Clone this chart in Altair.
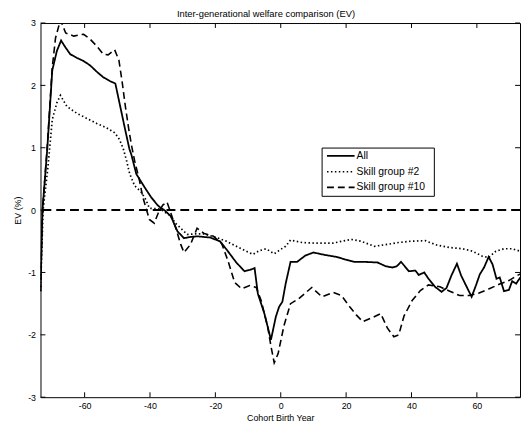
import altair as alt
import pandas as pd

# ---------------- data ----------------
series_names = ["All", "Skill group #2", "Skill group #10"]

all_year = [-73.5, -72.9, -71.4, -69.9, -68.5, -67.2, -66.0, -64.4, -62.3, -60.3, -58.3, -56.3,
            -54.3, -52.3, -50.6, -49.3, -47.8, -46.3, -45.7, -44.2, -41.7, -39.7, -37.7, -36.6,
            -35.6, -33.6, -31.6, -29.6, -27.6, -25.6, -23.6, -21.6, -18.6, -16.6, -13.6, -11.1,
            -9.5, -8.0, -7.0, -5.0, -3.0, -1.5, -0.5, 0.5, 1.5, 3.0, 5.0, 7.5, 10.0, 13.6, 17.1,
            19.6, 22.6, 25.6, 29.6, 32.1, 34.1, 35.5, 36.8, 39.2, 41.2, 42.2, 43.9, 45.2, 47.2,
            49.2, 50.7, 52.2, 53.9, 55.2, 56.5, 58.4, 59.7, 60.9, 62.2, 63.6, 64.8, 66.0, 67.0,
            68.3, 69.8, 70.8, 72.0, 73.3]
all_ev = [-1.30, 0.00, 1.00, 2.24, 2.55, 2.72, 2.62, 2.50, 2.44, 2.39, 2.32, 2.22,
          2.13, 2.07, 2.03, 1.71, 1.34, 0.98, 0.89, 0.58, 0.37, 0.21, 0.08, 0.03,
          0.00, -0.10, -0.34, -0.45, -0.43, -0.42, -0.43, -0.44, -0.50, -0.63, -0.84, -0.98,
          -0.96, -0.93, -1.34, -1.66, -2.08, -1.71, -1.55, -1.47, -1.18, -0.83, -0.83, -0.73, -0.68, -0.72, -0.75,
          -0.79, -0.83, -0.83, -0.84, -0.90, -0.92, -0.90, -0.83, -0.98, -0.97, -1.04, -1.00, -1.10, -1.23,
          -1.31, -1.25, -1.05, -0.86, -1.05, -1.19, -1.39, -1.21, -1.03, -0.92, -0.75, -0.87, -1.10, -1.08,
          -1.30, -1.28, -1.14, -1.18, -1.08]

sg2_year = [-73.5, -72.7, -71.2, -69.9, -68.5, -67.4, -66.3, -65.4, -62.3, -59.3, -56.3, -53.3,
            -50.8, -49.3, -48.1, -47.2, -46.2, -44.7, -42.7, -41.2, -40.2, -37.0, -34.0, -32.0,
            -30.6, -28.6, -26.0, -23.6, -19.6, -16.6, -13.6, -10.5, -8.5, -6.5, -4.5, -2.0, 0.0,
            1.5, 3.0, 6.5, 10.5, 16.0, 18.6, 21.6, 24.6, 28.6, 32.6, 36.0, 39.7, 44.2, 47.7, 51.7,
            55.7, 58.7, 61.7, 63.6, 65.8, 68.3, 70.8, 73.3]
sg2_ev = [-1.30, 0.00, 0.70, 1.45, 1.72, 1.84, 1.74, 1.66, 1.55, 1.47, 1.39, 1.32,
          1.24, 1.13, 0.97, 0.80, 0.58, 0.39, 0.29, 0.16, 0.03, 0.02, -0.08, -0.22,
          -0.29, -0.39, -0.38, -0.38, -0.44, -0.50, -0.58, -0.66, -0.71, -0.65, -0.62, -0.70, -0.63,
          -0.58, -0.48, -0.52, -0.53, -0.53, -0.50, -0.47, -0.50, -0.58, -0.55, -0.52, -0.50, -0.49, -0.56, -0.60,
          -0.62, -0.66, -0.74, -0.76, -0.66, -0.62, -0.62, -0.66]

sg10_year = [-73.5, -72.9, -71.4, -69.9, -68.9, -67.4, -65.8, -63.3, -61.5, -60.3, -58.3, -56.3,
             -54.3, -52.8, -50.8, -49.5, -48.5, -47.5, -46.5, -45.7, -44.7, -43.2, -42.2, -41.2,
             -40.2, -38.7, -37.5, -36.1, -34.8, -33.6, -32.1, -30.6, -29.6, -27.6, -25.6, -23.6,
             -20.6, -18.1, -16.1, -14.1, -12.0, -9.5, -7.5, -6.0, -4.0, -3.0, -2.0, -0.8, 1.0,
             3.0, 5.5, 9.5, 12.6, 16.0, 18.6, 21.1, 23.1, 25.1, 28.6, 30.6, 32.6, 34.6, 36.1, 37.7,
             40.2, 42.7, 45.2, 48.7, 51.7, 54.7, 57.7, 60.7, 63.8, 66.8, 69.8, 72.3, 73.5]
sg10_ev = [-1.30, 0.00, 1.05, 2.29, 2.76, 3.05, 2.84, 2.79, 2.81, 2.82, 2.74, 2.63,
           2.50, 2.49, 2.57, 2.40, 2.05, 1.65, 1.30, 1.05, 0.79, 0.47, 0.21, 0.03,
           -0.15, -0.21, -0.05, 0.08, 0.13, -0.05, -0.29, -0.55, -0.68, -0.55, -0.29, -0.37,
           -0.42, -0.53, -0.82, -1.16, -1.26, -1.21, -1.24, -1.45, -1.87, -2.18, -2.45, -2.30, -1.85,
           -1.50, -1.42, -1.24, -1.39, -1.32, -1.37, -1.55, -1.68, -1.79, -1.71, -1.66, -1.89, -2.03, -2.00, -1.70,
           -1.45, -1.29, -1.20, -1.23, -1.30, -1.37, -1.37, -1.33, -1.26, -1.19, -1.13, -1.05, -1.02]

x_ticks = [-60, -40, -20, 0, 20, 40, 60]
y_ticks = [-3, -2, -1, 0, 1, 2, 3]
reference_level = [0]

title_text = "Inter-generational welfare comparison (EV)"
x_title = "Cohort Birth Year"
y_title = "EV (%)"

# ---------------- build ----------------
rows = []
for name, xs, ys in zip(series_names, [all_year, sg2_year, sg10_year], [all_ev, sg2_ev, sg10_ev]):
    for xv, yv in zip(xs, ys):
        rows.append({"series": name, "year": xv, "ev": yv})
df = pd.DataFrame(rows)

W, H = 487, 380
FONT = "Liberation Sans"
xscale = alt.Scale(domain=[-73.5, 73.2], nice=False, zero=False)
yscale = alt.Scale(domain=[-3, 3], nice=False, zero=False)

x_axis = alt.Axis(title=x_title, values=x_ticks, labelExpr="datum.value + ''",
                  titlePadding=3, labelPadding=5)
y_axis = alt.Axis(title=y_title, values=y_ticks, labelExpr="datum.value + ''",
                  titlePadding=5, labelPadding=5)

def X(field="year"):
    return alt.X(f"{field}:Q", scale=xscale, axis=x_axis)

def Y(field="ev"):
    return alt.Y(f"{field}:Q", scale=yscale, axis=y_axis)

lines = alt.Chart(df).mark_line(clip=True, color="black").encode(
    x=X(), y=Y(),
    detail="series:N",
    strokeDash=alt.StrokeDash("series:N",
                              scale=alt.Scale(domain=series_names, range=[[1, 0], [1.5, 2.5], [7, 4]]),
                              legend=None),
    strokeWidth=alt.StrokeWidth("series:N",
                                scale=alt.Scale(domain=series_names, range=[1.8, 1.6, 1.8]),
                                legend=None),
)

zero_line = alt.Chart(pd.DataFrame({"ev": reference_level})).mark_rule(
    color="black", strokeDash=[9, 5], strokeWidth=2
).encode(y=Y())

xt = pd.DataFrame({"year": x_ticks})
yt = pd.DataFrame({"ev": y_ticks})
xt_bottom = alt.Chart(xt).mark_rule(color="black", strokeWidth=1).encode(
    x=X(), y=alt.value(H), y2=alt.value(H - 5))
xt_top = alt.Chart(xt).mark_rule(color="black", strokeWidth=1).encode(
    x=X(), y=alt.value(0), y2=alt.value(5))
yt_left = alt.Chart(yt).mark_rule(color="black", strokeWidth=1).encode(
    y=Y(), x=alt.value(0), x2=alt.value(5))
yt_right = alt.Chart(yt).mark_rule(color="black", strokeWidth=1).encode(
    y=Y(), x=alt.value(W), x2=alt.value(W - 5))

one = pd.DataFrame({"k": [0]})

# chart title drawn as text just above the plot area
title_mark = alt.Chart(one).mark_text(align="center", baseline="alphabetic", font=FONT,
                                      fontSize=9.5, color="black").encode(
    x=alt.value(229), y=alt.value(-6), text=alt.value(title_text))

# manual legend box
LX0, LX1, LY0, LY1 = 286, 400, 127, 176
legend_box = alt.Chart(one).mark_rect(fill="white", stroke="black", strokeWidth=1).encode(
    x=alt.value(LX0), x2=alt.value(LX1), y=alt.value(LY0), y2=alt.value(LY1))
dashes = [[1, 0], [1.5, 2.5], [7, 4]]
widths = [1.8, 1.6, 1.8]
legend_layers = [legend_box]
for i, name in enumerate(series_names):
    yy = 135 + 16 * i
    legend_layers.append(
        alt.Chart(one).mark_rule(color="black", strokeDash=dashes[i], strokeWidth=widths[i]).encode(
            x=alt.value(291), x2=alt.value(319), y=alt.value(yy)))
    legend_layers.append(
        alt.Chart(one).mark_text(align="left", baseline="middle", font=FONT, fontSize=10.5,
                                 color="black").encode(
            x=alt.value(321), y=alt.value(yy), text=alt.value(name)))

chart = alt.layer(
    zero_line, lines, xt_bottom, xt_top, yt_left, yt_right, title_mark, *legend_layers
).properties(
    width=W, height=H,
    padding={"left": 33, "top": 12, "right": 1, "bottom": 26},
    autosize=alt.AutoSizeParams(type="none"),
).configure_view(
    stroke="black", strokeWidth=1
).configure_axis(
    labelFont=FONT, labelFontSize=9, labelColor="black",
    titleFont=FONT, titleFontSize=9, titleFontWeight="normal", titleColor="black",
    ticks=False, tickSize=0, domain=False, grid=False,
)

chart.save("out.html", embed_options={"renderer": "svg", "actions": False})
